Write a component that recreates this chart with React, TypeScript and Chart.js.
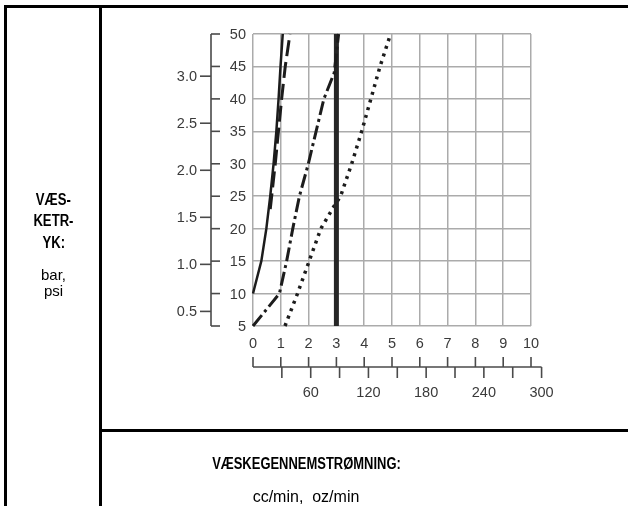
import React, { useEffect, useRef } from "react";
import { Chart, registerables } from "chart.js";
Chart.register(...registerables);

// ---- data (x in oz/min, y in psi) ----
const psiTicks = [5, 10, 15, 20, 25, 30, 35, 40, 45, 50];
const barTicks = [0.5, 1.0, 1.5, 2.0, 2.5, 3.0];
const ozTicks = [0, 1, 2, 3, 4, 5, 6, 7, 8, 9, 10];
const ccTicks = [30, 60, 90, 120, 150, 180, 210, 240, 270, 300];
const ccLabels = [60, 120, 180, 240, 300];
const PSI_PER_BAR = 14.5;
const CC_PER_OZ = 28.9;

const solidOz = [0, 0.3, 0.48, 0.62, 0.74, 0.84, 0.92, 0.99, 1.07];
const solidPsi = [10, 15, 20, 25, 30, 35, 40, 45, 50];

const dashedOz = [0.62, 0.8, 1.03, 1.16, 1.33];
const dashedPsi = [23, 30, 40, 45, 50];

const dashDotOz = [0, 0.95, 1.21, 1.43, 1.67, 1.99, 2.27, 2.55, 2.92, 3.08];
const dashDotPsi = [5, 10, 15, 20, 25, 30, 35, 40, 44, 50];

const thickOz = [3, 3];
const thickPsi = [5, 50];

const dottedOz = [1.15, 1.6, 2.02, 2.44, 2.92, 3.15, 3.55, 3.91, 4.24, 4.57, 4.95];
const dottedPsi = [5, 10, 15, 20, 23.5, 25, 30, 35, 40, 45, 50];

const pts = (xs: number[], ys: number[]) => xs.map((x, i) => ({ x, y: ys[i] }));

const FONT = '"Liberation Sans", Arial, Helvetica, sans-serif';

const axesPlugin = {
  id: "customAxes",
  afterDraw(chart: any) {
    const ctx = chart.ctx as CanvasRenderingContext2D;
    const xs = chart.scales.x;
    const ys = chart.scales.y;
    const left = chart.chartArea.left;
    ctx.save();
    ctx.strokeStyle = "#4a4a4a";
    ctx.lineWidth = 1.6;
    ctx.fillStyle = "#3a3a3a";
    ctx.font = `14.5px ${FONT}`;
    const line = (x1: number, y1: number, x2: number, y2: number) => {
      ctx.beginPath();
      ctx.moveTo(x1, y1);
      ctx.lineTo(x2, y2);
      ctx.stroke();
    };
    // bracket axis (psi right, bar left)
    const bx = left - 42;
    line(bx, ys.getPixelForValue(5), bx, ys.getPixelForValue(50));
    ctx.textBaseline = "middle";
    ctx.textAlign = "right";
    psiTicks.forEach((p) => {
      const py = ys.getPixelForValue(p);
      line(bx, py, bx + 9, py);
      ctx.fillText(String(p), left - 7, py + 1);
    });
    barTicks.forEach((b) => {
      const py = ys.getPixelForValue(b * PSI_PER_BAR);
      line(bx - 11, py, bx, py);
      ctx.fillText(b.toFixed(1), bx - 14, py + 1);
    });
    // oz labels
    ctx.textAlign = "center";
    ozTicks.forEach((o) => {
      ctx.fillText(String(o), xs.getPixelForValue(o), ys.getPixelForValue(5) + 18);
    });
    // secondary double axis
    const ly = ys.getPixelForValue(5) + 41;
    line(xs.getPixelForValue(0), ly, xs.getPixelForValue(300 / CC_PER_OZ), ly);
    ozTicks.forEach((o) => {
      const px = xs.getPixelForValue(o);
      line(px, ly - 10, px, ly);
    });
    ccTicks.forEach((c) => {
      const px = xs.getPixelForValue(c / CC_PER_OZ);
      line(px, ly, px, ly + 11);
    });
    ccLabels.forEach((c) => {
      ctx.fillText(String(c), xs.getPixelForValue(c / CC_PER_OZ), ly + 26);
    });
    ctx.restore();
  },
};

export default function App() {
  const ref = useRef<HTMLCanvasElement | null>(null);
  useEffect(() => {
    if (!ref.current) return;
    const ink = "#1c1c1c";
    const chart = new Chart(ref.current, {
      type: "scatter",
      data: {
        datasets: [
          { data: pts(solidOz, solidPsi), showLine: true, borderColor: ink, borderWidth: 2.5, pointRadius: 0, clip: false } as any,
          { data: pts(dashedOz, dashedPsi), showLine: true, borderColor: ink, borderWidth: 3, borderDash: [16, 6], pointRadius: 0, clip: false } as any,
          { data: pts(dashDotOz, dashDotPsi), showLine: true, borderColor: ink, borderWidth: 3, borderDash: [14, 4, 3, 4], pointRadius: 0, clip: false } as any,
          { data: pts(thickOz, thickPsi), showLine: true, borderColor: "#262626", borderWidth: 5, pointRadius: 0, clip: false } as any,
          { data: pts(dottedOz, dottedPsi), showLine: true, borderColor: ink, borderWidth: 3.5, borderDash: [3, 5], pointRadius: 0, clip: false } as any,
        ],
      },
      options: {
        animation: false,
        responsive: false,
        devicePixelRatio: 1,
        layout: { padding: { left: 253, right: 97, top: 34, bottom: 180 } },
        plugins: { legend: { display: false }, tooltip: { enabled: false } },
        scales: {
          x: {
            type: "linear",
            min: 0,
            max: 10,
            ticks: { stepSize: 1, display: false },
            grid: { color: "#ababab", lineWidth: 1.5, drawTicks: false },
            border: { display: false },
            afterFit: (s: any) => { s.height = 0; },
          },
          y: {
            type: "linear",
            min: 5,
            max: 50,
            ticks: { stepSize: 5, display: false },
            grid: { color: "#ababab", lineWidth: 1.5, drawTicks: false },
            border: { display: false },
            afterFit: (s: any) => { s.width = 0; },
          },
        },
      },
      plugins: [axesPlugin],
    });
    return () => chart.destroy();
  }, []);

  const txt = (s: string, top: number, bold: boolean, size: number, squeeze: number, left = 7, width = 93) => (
    <div
      style={{
        position: "absolute",
        left,
        width,
        top: top - 10,
        height: 20,
        lineHeight: "20px",
        textAlign: "center",
        fontFamily: FONT,
        fontWeight: bold ? 700 : 400,
        fontSize: size,
        color: "#000",
        whiteSpace: "pre",
      }}
    >
      <span style={{ display: "inline-block", transform: `scaleX(${squeeze})`, transformOrigin: "50% 50%" }}>{s}</span>
    </div>
  );

  return (
    <div style={{ position: "absolute", left: 0, top: 0, width: 628, height: 506, background: "#fff", overflow: "hidden" }}>
      <canvas ref={ref} width={628} height={506} style={{ position: "absolute", left: 0, top: 0, width: 628, height: 506 }} />
      <div style={{ position: "absolute", left: 4, top: 5, width: 624, height: 3, background: "#000" }} />
      <div style={{ position: "absolute", left: 4, top: 5, width: 3, height: 501, background: "#000" }} />
      <div style={{ position: "absolute", left: 99, top: 5, width: 3, height: 501, background: "#000" }} />
      <div style={{ position: "absolute", left: 99, top: 429, width: 529, height: 3, background: "#000" }} />
      {txt("VÆS-", 200, true, 16, 0.82)}
      {txt("KETR-", 221, true, 16, 0.82)}
      {txt("YK:", 243, true, 16, 0.82)}
      {txt("bar,", 275, false, 15, 1)}
      {txt("psi", 291, false, 15, 1)}
      {txt("VÆSKEGENNEMSTRØMNING:", 464, true, 16, 0.81, 106, 400)}
      {txt("cc/min,  oz/min", 497, false, 16, 1, 106, 400)}
    </div>
  );
}
